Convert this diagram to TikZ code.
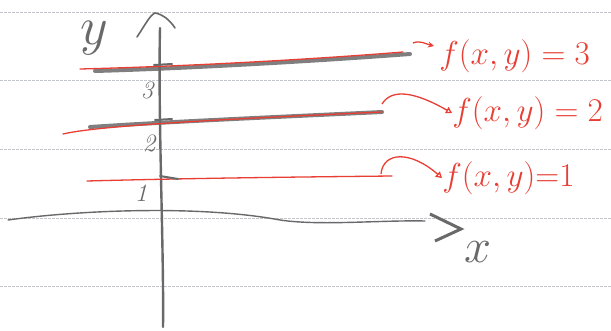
\documentclass[tikz,border=0pt]{standalone}
\usetikzlibrary{arrows.meta}
\definecolor{pen}{RGB}{232,62,52}
\definecolor{pencil}{RGB}{105,105,105}
\definecolor{ruled}{RGB}{195,198,202}
\begin{document}
\begin{tikzpicture}[x=1pt,y=-1pt,
  ruleline/.style={ruled, line width=0.6pt, dash pattern=on 3pt off 1pt},
  pencilline/.style={pencil, line width=2.4pt, line cap=round},
  shade/.style={pencil, line width=4pt, line cap=round, opacity=0.85},
  redline/.style={pen, line width=1.3pt, line cap=round},
  redarrow/.style={pen, line width=1.3pt, -{Triangle[open,length=6pt,width=7pt]}},
  lab/.style={pen, font=\fontsize{20}{20}\selectfont, scale=1.6, anchor=west, inner sep=0pt},
  ticklab/.style={pencil, font=\fontsize{20}{20}\selectfont\itshape, scale=1.25, inner sep=0pt},
  axlab/.style={pencil, font=\fontsize{20}{20}\selectfont, scale=2.6, inner sep=0pt}]
\useasboundingbox (0,0) rectangle (611,331);
\fill[white] (0,0) rectangle (611,331);
% ruled paper
\foreach \yy in {12,80,149,218,286} \draw[ruleline] (0,\yy) -- (611,\yy);
% axes
\coordinate (ybot) at (163,327);
\coordinate (ytop) at (160,28);
\draw[pencilline] (ybot) .. controls (164,250) and (158,120) .. (ytop);
\draw[pencilline, line width=1.6pt] (137,37) .. controls (145,25) and (150,15) .. (155,13) .. controls (162,14) and (170,20) .. (175,28);
\coordinate (xl) at (8,220);
\coordinate (xr) at (425,221);
\draw[pencilline, line width=1.4pt] (xl) .. controls (80,210) and (200,205) .. (280,220) .. controls (320,226) and (380,220) .. (xr);
\draw[pencilline, line width=3pt, line cap=butt] (430,214) -- (461,229) -- (435,241);
\node[axlab] (ylab) at (94,38) {$y$};
\node[axlab, scale=0.9] (xlab) at (478,252) {$x$};
% level line 3
\coordinate (a3) at (80,69);
\coordinate (b3) at (403,52);
\draw[shade] (95,71) .. controls (200,68) and (330,60) .. (410,54);
\draw[redline] (a3) .. controls (200,66) and (330,58) .. (b3);
\draw[pencilline, line width=2pt] (154,65) -- (172,64);
\node[ticklab] (t3) at (147,90) {3};
% level line 2
\coordinate (a2) at (63,134);
\coordinate (b2) at (382,112);
\draw[shade] (90,127) .. controls (180,121) and (300,116) .. (b2);
\draw[redline] (a2) .. controls (100,125) and (250,118) .. (b2);
\draw[pencilline, line width=2pt] (155,120) -- (172,119);
\node[ticklab] (t2) at (149,143) {2};
% level line 1
\coordinate (a1) at (87,181);
\coordinate (b1) at (392,176);
\draw[redline] (a1) .. controls (200,178) and (300,177) .. (b1);
\draw[pencilline, line width=2pt] (160,176) -- (178,179);
\node[ticklab] (t1) at (141,193) {1};
% labels
\node[lab] (l3) at (439,56) {$f(x,y)=3$};
\node[lab] (l2) at (452,113) {$f(x,y)=2$};
\node[lab] (l1) at (442,178) {$f(x,y){=}1$};
% arrows
\draw[pen, line width=1.3pt, -{Stealth[length=6pt,width=6pt]}] (413,43) .. controls (420,40) and (426,44) .. (434,46);
\coordinate (s2) at (382,104);
\draw[redarrow] (s2) .. controls (392,88) and (415,92) .. (l2.west);
\coordinate (s1) at (381,174);
\draw[redarrow] (s1) .. controls (383,152) and (410,150) .. (l1.west);
\end{tikzpicture}
\end{document}
